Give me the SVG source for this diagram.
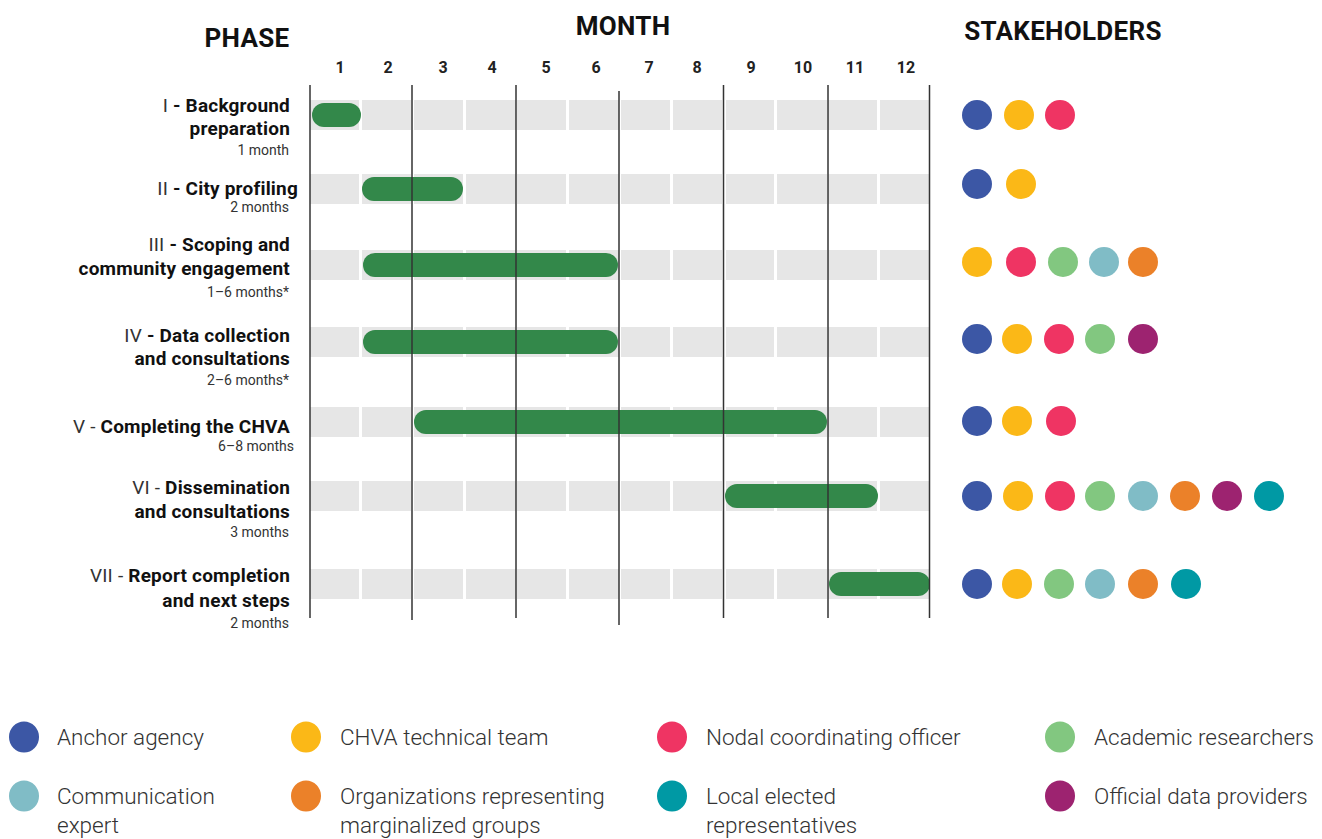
<svg xmlns="http://www.w3.org/2000/svg" width="1322" height="839" viewBox="0 0 1322 839">
<style>
.hd{font-family:Roboto,"Liberation Sans",sans-serif;font-weight:700;font-size:26px;letter-spacing:0.3px;fill:#111;text-anchor:middle}
.mn{font-family:Roboto,"Liberation Sans",sans-serif;font-weight:700;font-size:16px;fill:#222;text-anchor:middle}
.ph{font-family:Roboto,"Liberation Sans",sans-serif;font-weight:700;font-size:19px;letter-spacing:0.2px;fill:#111;text-anchor:end}
.rn{font-weight:400;fill:#333}
.du{font-family:Roboto,"Liberation Sans",sans-serif;font-weight:400;font-size:14px;fill:#333;text-anchor:end}
.lg{font-family:Roboto,"Liberation Sans",sans-serif;font-weight:300;font-size:22.5px;fill:#333}
.cell{fill:#e6e6e6}
.bar{fill:#33884a}
.vl{stroke:#333;stroke-width:1.5}
.c1{fill:#3c57a5}.c2{fill:#fbb817}.c3{fill:#ef3463}.c4{fill:#82c780}
.c5{fill:#80bcc6}.c6{fill:#eb8129}.c7{fill:#9d2370}.c8{fill:#0099a4}
</style>
<defs>
<g id="cells">
<rect class="cell" x="310" y="0" width="49" height="30"/>
<rect class="cell" x="362" y="0" width="49" height="30"/>
<rect class="cell" x="414" y="0" width="49" height="30"/>
<rect class="cell" x="466" y="0" width="50" height="30"/>
<rect class="cell" x="517" y="0" width="49" height="30"/>
<rect class="cell" x="569" y="0" width="50" height="30"/>
<rect class="cell" x="621" y="0" width="49" height="30"/>
<rect class="cell" x="673" y="0" width="49" height="30"/>
<rect class="cell" x="726" y="0" width="48" height="30"/>
<rect class="cell" x="777" y="0" width="50" height="30"/>
<rect class="cell" x="828" y="0" width="49" height="30"/>
<rect class="cell" x="880" y="0" width="49" height="30"/>
</g>
</defs>
<rect width="1322" height="839" fill="#fff"/>

<g id="headers">
<text class="hd" x="247" y="47">PHASE</text>
<text class="hd" x="623" y="35">MONTH</text>
<text class="hd" x="1063" y="40">STAKEHOLDERS</text>
<text class="mn" x="340" y="73">1</text>
<text class="mn" x="388" y="73">2</text>
<text class="mn" x="443" y="73">3</text>
<text class="mn" x="492" y="73">4</text>
<text class="mn" x="546" y="73">5</text>
<text class="mn" x="596" y="73">6</text>
<text class="mn" x="649" y="73">7</text>
<text class="mn" x="697" y="73">8</text>
<text class="mn" x="751" y="73">9</text>
<text class="mn" x="803" y="73">10</text>
<text class="mn" x="855" y="73">11</text>
<text class="mn" x="906" y="73">12</text>
</g>

<g id="grid">
<use href="#cells" y="100"/>
<use href="#cells" y="174"/>
<use href="#cells" y="250"/>
<use href="#cells" y="327"/>
<use href="#cells" y="407"/>
<use href="#cells" y="481"/>
<use href="#cells" y="569"/>
</g>

<g id="bars">
<rect class="bar" x="312" y="103" width="49" height="24" rx="12"/>
<rect class="bar" x="362" y="177" width="101" height="24" rx="12"/>
<rect class="bar" x="363" y="253" width="255" height="24" rx="12"/>
<rect class="bar" x="363" y="330" width="255" height="24" rx="12"/>
<rect class="bar" x="414" y="410" width="413" height="24" rx="12"/>
<rect class="bar" x="725" y="484" width="153" height="24" rx="12"/>
<rect class="bar" x="829" y="572" width="101" height="24" rx="12"/>
</g>

<g id="connectors">
<line class="vl" x1="310" y1="85" x2="310" y2="618"/>
<line class="vl" x1="412" y1="85" x2="412" y2="620"/>
<line class="vl" x1="516" y1="85" x2="516" y2="618"/>
<line class="vl" x1="619" y1="91" x2="619" y2="625" stroke="#000"/>
<line class="vl" x1="723.5" y1="85" x2="723.5" y2="618"/>
<line class="vl" x1="828" y1="85" x2="828" y2="618"/>
<line class="vl" x1="929.5" y1="85" x2="929.5" y2="618"/>
</g>

<g id="phase-1">
<text class="ph" x="290" y="112"><tspan class="rn">I</tspan> - Background</text>
<text class="ph" x="290" y="135">preparation</text>
<text class="du" x="289" y="155">1 month</text>
</g>
<g id="phase-2">
<text class="ph" x="298" y="195"><tspan class="rn">II</tspan> - City profiling</text>
<text class="du" x="289" y="212">2 months</text>
</g>
<g id="phase-3">
<text class="ph" x="290" y="251"><tspan class="rn">III</tspan> - Scoping and</text>
<text class="ph" x="290" y="275">community engagement</text>
<text class="du" x="289" y="297">1–6 months*</text>
</g>
<g id="phase-4">
<text class="ph" x="290" y="342"><tspan class="rn">IV</tspan> - Data collection</text>
<text class="ph" x="290" y="365">and consultations</text>
<text class="du" x="289" y="385">2–6 months*</text>
</g>
<g id="phase-5">
<text class="ph" x="290" y="433"><tspan class="rn">V -</tspan> Completing the CHVA</text>
<text class="du" x="294" y="451">6–8 months</text>
</g>
<g id="phase-6">
<text class="ph" x="290" y="494"><tspan class="rn">VI -</tspan> Dissemination</text>
<text class="ph" x="290" y="518">and consultations</text>
<text class="du" x="289" y="537">3 months</text>
</g>
<g id="phase-7">
<text class="ph" x="290" y="582"><tspan class="rn">VII -</tspan> Report completion</text>
<text class="ph" x="290" y="607">and next steps</text>
<text class="du" x="289" y="628">2 months</text>
</g>

<g id="stakeholders">
<circle class="c1" cx="977" cy="115" r="15"/><circle class="c2" cx="1019" cy="115" r="15"/><circle class="c3" cx="1060" cy="115" r="15"/>
<circle class="c1" cx="977" cy="184" r="15"/><circle class="c2" cx="1021" cy="184" r="15"/>
<circle class="c2" cx="977" cy="262" r="15"/><circle class="c3" cx="1021" cy="262" r="15"/><circle class="c4" cx="1063" cy="262" r="15"/><circle class="c5" cx="1104" cy="262" r="15"/><circle class="c6" cx="1143" cy="262" r="15"/>
<circle class="c1" cx="977" cy="339" r="15"/><circle class="c2" cx="1017" cy="339" r="15"/><circle class="c3" cx="1059" cy="339" r="15"/><circle class="c4" cx="1100" cy="339" r="15"/><circle class="c7" cx="1143" cy="339" r="15"/>
<circle class="c1" cx="977" cy="421" r="15"/><circle class="c2" cx="1017" cy="421" r="15"/><circle class="c3" cx="1061" cy="421" r="15"/>
<circle class="c1" cx="977" cy="496" r="15"/><circle class="c2" cx="1018" cy="496" r="15"/><circle class="c3" cx="1060" cy="496" r="15"/><circle class="c4" cx="1100" cy="496" r="15"/><circle class="c5" cx="1143" cy="496" r="15"/><circle class="c6" cx="1185" cy="496" r="15"/><circle class="c7" cx="1227" cy="496" r="15"/><circle class="c8" cx="1269" cy="496" r="15"/>
<circle class="c1" cx="977" cy="584" r="15"/><circle class="c2" cx="1017" cy="584" r="15"/><circle class="c4" cx="1059" cy="584" r="15"/><circle class="c5" cx="1100" cy="584" r="15"/><circle class="c6" cx="1143" cy="584" r="15"/><circle class="c8" cx="1186" cy="584" r="15"/>
</g>

<g id="legend">
<g id="lg-anchor"><ellipse class="c1" cx="24" cy="737" rx="15" ry="15.5"/><text class="lg" x="57" y="745">Anchor agency</text></g>
<g id="lg-chva"><ellipse class="c2" cx="306" cy="737" rx="15" ry="15.5"/><text class="lg" x="340" y="745">CHVA technical team</text></g>
<g id="lg-nodal"><ellipse class="c3" cx="672" cy="737" rx="15" ry="15.5"/><text class="lg" x="706" y="745">Nodal coordinating officer</text></g>
<g id="lg-academic"><ellipse class="c4" cx="1060" cy="737" rx="15" ry="15.5"/><text class="lg" x="1094" y="745">Academic researchers</text></g>
<g id="lg-comm"><ellipse class="c5" cx="24" cy="796" rx="15" ry="15.5"/><text class="lg" x="57" y="804">Communication</text><text class="lg" x="57" y="833">expert</text></g>
<g id="lg-org"><ellipse class="c6" cx="306" cy="796" rx="15" ry="15.5"/><text class="lg" x="340" y="804">Organizations representing</text><text class="lg" x="340" y="833">marginalized groups</text></g>
<g id="lg-local"><ellipse class="c8" cx="672" cy="796" rx="15" ry="15.5"/><text class="lg" x="706" y="804">Local elected</text><text class="lg" x="706" y="833">representatives</text></g>
<g id="lg-official"><ellipse class="c7" cx="1060" cy="796" rx="15" ry="15.5"/><text class="lg" x="1094" y="804">Official data providers</text></g>
</g>
</svg>
